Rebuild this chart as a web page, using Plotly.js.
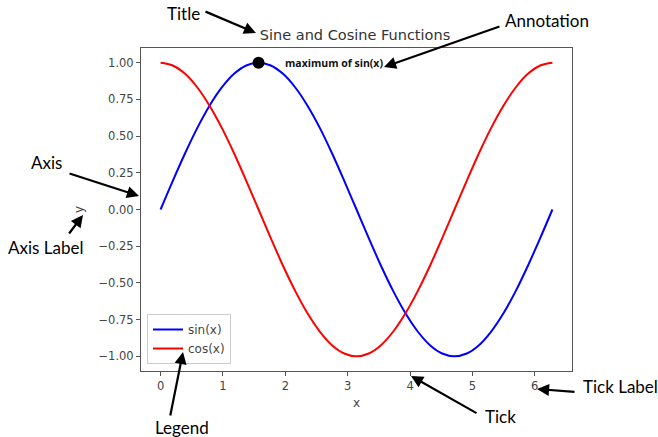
<!DOCTYPE html>
<html>
<head>
<meta charset="utf-8">
<script src="https://cdn.plot.ly/plotly-3.0.1.min.js"></script>
<style>html,body{margin:0;padding:0;background:#fff;}#chart{width:658px;height:437px;}</style>
</head>
<body>
<div id="chart"></div>
<script>
const xValues = [0, 0.196, 0.393, 0.589, 0.785, 0.982, 1.178, 1.374, 1.571, 1.767, 1.963, 2.160, 2.356, 2.553, 2.749, 2.945, 3.142, 3.338, 3.534, 3.731, 3.927, 4.123, 4.320, 4.516, 4.712, 4.909, 5.105, 5.301, 5.498, 5.694, 5.890, 6.087, 6.283];
const sinValues = [0, 0.195, 0.383, 0.556, 0.707, 0.831, 0.924, 0.981, 1.000, 0.981, 0.924, 0.831, 0.707, 0.556, 0.383, 0.195, 0, -0.195, -0.383, -0.556, -0.707, -0.831, -0.924, -0.981, -1.000, -0.981, -0.924, -0.831, -0.707, -0.556, -0.383, -0.195, 0];
const cosValues = [1.000, 0.981, 0.924, 0.831, 0.707, 0.556, 0.383, 0.195, 0, -0.195, -0.383, -0.556, -0.707, -0.831, -0.924, -0.981, -1.000, -0.981, -0.924, -0.831, -0.707, -0.556, -0.383, -0.195, 0, 0.195, 0.383, 0.556, 0.707, 0.831, 0.924, 0.981, 1.000];
const seriesNames = ["sin(x)", "cos(x)"];
const maxPointX = [1.571];
const maxPointY = [1.00];
const xTickVals = [0, 1, 2, 3, 4, 5, 6];
const yTickVals = [-1.00, -0.75, -0.50, -0.25, 0.00, 0.25, 0.50, 0.75, 1.00];
const chartTitle = "Sine and Cosine Functions";
const annotationText = "maximum of sin(x)";
const calloutLabels = ["Title", "Annotation", "Axis", "Axis Label", "Legend", "Tick", "Tick Label"];

// Layout geometry (pixels)
const W = 658, H = 437;
const L = 141, R = 572, T = 48, B = 371;
const px = x => (x - L) / (R - L);
const py = y => (B - y) / (B - T);

// callout text centres, arrow tails, arrow heads (pixels)
const calloutGeom = [
  {t: [183, 13], a: [204, 11], h: [256, 33]},
  {t: [547, 20], a: [501, 26], h: [384, 67]},
  {t: [46, 162], a: [68, 173], h: [139, 196]},
  {t: [45, 247], a: [68, 235], h: [83, 215]},
  {t: [182, 427], a: [170, 417], h: [183, 352]},
  {t: [500, 416], a: [478, 414], h: [411, 376]},
  {t: [620, 387], a: [576, 392], h: [537, 389]}
];

const annotations = [{
  x: 1.97, y: 1.0, xref: 'x', yref: 'y', xanchor: 'left', yanchor: 'middle',
  text: '<b>' + annotationText + '</b>', showarrow: false,
  font: {family: 'Open Sans', size: 10.5, color: '#111'}
}];
calloutLabels.forEach((lab, i) => {
  const g = calloutGeom[i];
  annotations.push({
    x: px(g.t[0]), y: py(g.t[1]), xref: 'paper', yref: 'paper',
    xanchor: 'center', yanchor: 'middle', text: lab, showarrow: false,
    font: {family: 'Lato', size: 17, color: '#000'}
  });
  annotations.push({
    x: px(g.h[0]), y: py(g.h[1]), xref: 'paper', yref: 'paper',
    ax: g.a[0] - g.h[0], ay: g.a[1] - g.h[1], axref: 'pixel', ayref: 'pixel',
    text: '', showarrow: true, arrowhead: 2, arrowsize: 1.1, arrowwidth: 2.2, arrowcolor: '#000'
  });
});

const traces = [
  {x: xValues, y: sinValues, name: seriesNames[0], type: 'scatter', mode: 'lines',
   line: {color: '#0000ff', width: 2, shape: 'spline', smoothing: 1}},
  {x: xValues, y: cosValues, name: seriesNames[1], type: 'scatter', mode: 'lines',
   line: {color: '#ff0000', width: 2, shape: 'spline', smoothing: 1}},
  {x: maxPointX, y: maxPointY, type: 'scatter', mode: 'markers', showlegend: false,
   marker: {color: '#000', size: 12}, cliponaxis: false}
];

const axisCommon = {
  showline: true, mirror: true, linecolor: '#555', linewidth: 1,
  ticks: 'outside', ticklen: 4, tickcolor: '#555', tickwidth: 1,
  showgrid: false, zeroline: false,
  tickfont: {family: 'DejaVu Sans', size: 11.5, color: '#444'}
};

const layout = {
  width: W, height: H,
  margin: {l: L, r: W - R, t: T, b: H - B, pad: 0},
  paper_bgcolor: '#fff', plot_bgcolor: '#fff',
  title: {text: chartTitle, x: px(355), xref: 'paper', y: 1 - 35 / H, yref: 'container',
          xanchor: 'center', yanchor: 'middle',
          font: {family: 'DejaVu Sans', size: 14.5, color: '#333'}},
  xaxis: Object.assign({}, axisCommon, {
    range: [-0.314, 6.597], tickvals: xTickVals, ticktext: xTickVals.map(String),
    title: {text: 'x', standoff: 6, font: {family: 'DejaVu Sans', size: 12, color: '#444'}}
  }),
  yaxis: Object.assign({}, axisCommon, {
    range: [-1.1, 1.1], tickvals: yTickVals, tickformat: '.2f',
    title: {text: 'y', standoff: 12, font: {family: 'DejaVu Sans', size: 12, color: '#444'}}
  }),
  showlegend: true,
  legend: {x: px(147), y: py(364), xanchor: 'left', yanchor: 'bottom',
           bgcolor: '#fff', bordercolor: '#ccc', borderwidth: 1,
           font: {family: 'DejaVu Sans', size: 12, color: '#444'},
           tracegroupgap: 0},
  annotations: annotations
};

Plotly.newPlot('chart', traces, layout, {displayModeBar: false, staticPlot: true});
</script>
</body>
</html>
